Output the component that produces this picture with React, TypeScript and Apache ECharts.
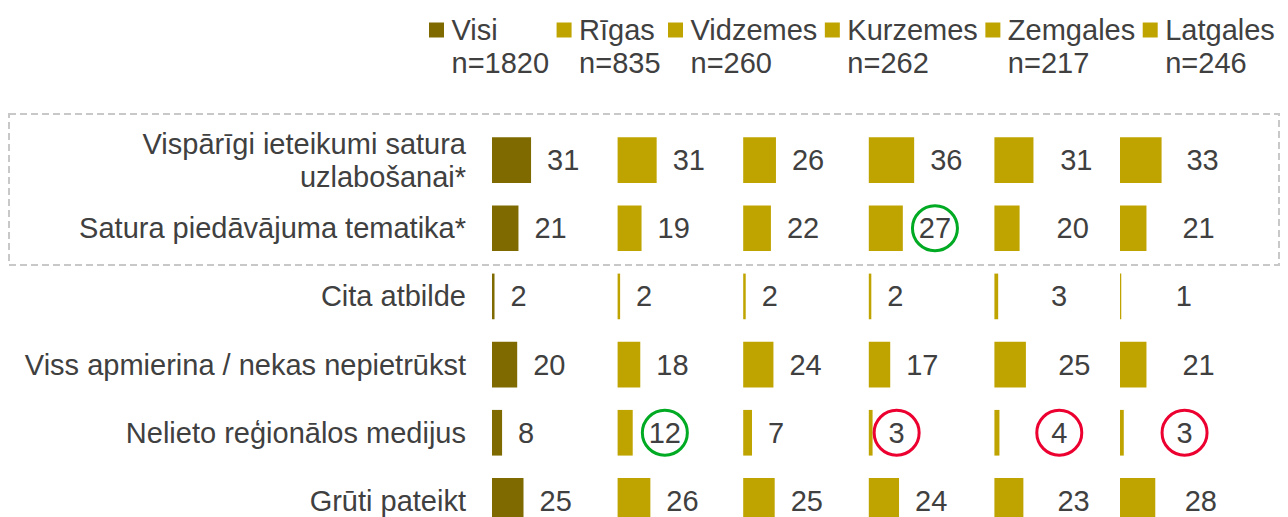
import { useEffect, useRef } from "react";
import * as echarts from "echarts";

const categories = [
  "Vispārīgi ieteikumi satura\nuzlabošanai*",
  "Satura piedāvājuma tematika*",
  "Cita atbilde",
  "Viss apmierina / nekas nepietrūkst",
  "Nelieto reģionālos medijus",
  "Grūti pateikt",
];
const groups = ["Visi", "Rīgas", "Vidzemes", "Kurzemes", "Zemgales", "Latgales"];
const sampleSizes = [1820, 835, 260, 262, 217, 246];
const visi = [31, 21, 2, 20, 8, 25];
const rigas = [31, 19, 2, 18, 12, 26];
const vidzemes = [26, 22, 2, 24, 7, 25];
const kurzemes = [36, 27, 2, 17, 3, 24];
const zemgales = [31, 20, 3, 25, 4, 23];
const latgales = [33, 21, 1, 21, 3, 28];
const values = [visi, rigas, vidzemes, kurzemes, zemgales, latgales];
// [group, category index]
const greenCircled: [string, number][] = [["Kurzemes", 1], ["Rīgas", 4]];
const redCircled: [string, number][] = [["Kurzemes", 4], ["Zemgales", 4], ["Latgales", 4]];

const FONT = 29;
const FAMILY = "'Liberation Sans', Arial, sans-serif";
const TEXT = "#404040";
const DARK = "#7f6a00";
const GOLD = "#bfa400";
const GREEN = "#00aa22";
const RED = "#ec0030";
const RING = 45;

function ringColor(g: string, c: number): string | null {
  if (greenCircled.some(([gg, cc]) => gg === g && cc === c)) return GREEN;
  if (redCircled.some(([gg, cc]) => gg === g && cc === c)) return RED;
  return null;
}

function dataItem(v: number, gi: number, ci: number) {
  const ring = ringColor(groups[gi], ci);
  const textW = String(v).length * 0.556 * FONT;
  const px = ring ? (RING - textW) / 2 : 0;
  const label: any = {};
  if (gi < 4) {
    label.position = "right";
    label.distance = 16 - px;
  } else {
    label.position = [55.5 + 0.33 * v - px, "50%"];
    label.align = "left";
    label.verticalAlign = "middle";
  }
  if (ring) {
    Object.assign(label, {
      borderColor: ring,
      borderWidth: 3,
      borderRadius: RING / 2,
      lineHeight: FONT,
      padding: [(RING - FONT) / 2, px],
    });
  }
  return { value: v, label };
}

export default function App() {
  const ref = useRef<HTMLDivElement>(null);
  useEffect(() => {
    if (!ref.current) return;
    const chart = echarts.init(ref.current, null, { renderer: "svg" });
    const gridTop = 126;
    const gridH = 409;
    const colStep = 125.6;
    const grid = groups.map((_, i) => ({
      left: 492 + i * colStep,
      top: gridTop,
      width: 126,
      height: gridH,
      containLabel: false,
      outerBoundsMode: "none",
    }));
    const xAxis = groups.map((_, i) => ({
      type: "value",
      gridIndex: i,
      min: 0,
      max: 100,
      show: false,
    }));
    const yAxis = groups.map((_, i) => ({
      type: "category",
      gridIndex: i,
      data: categories,
      inverse: true,
      axisLine: { show: false },
      axisTick: { show: false },
      splitLine: { show: false },
      axisLabel:
        i === 0
          ? { show: true, fontSize: FONT, fontFamily: FAMILY, color: TEXT, margin: 26, lineHeight: 33 }
          : { show: false },
    }));
    const series = groups.map((g, i) => ({
      type: "bar",
      name: g,
      xAxisIndex: i,
      yAxisIndex: i,
      barCategoryGap: "33%",
      itemStyle: { color: i === 0 ? DARK : GOLD },
      label: { show: true, fontSize: FONT, fontFamily: FAMILY, color: TEXT },
      data: values[i].map((v, ci) => dataItem(v, i, ci)),
    }));
    chart.setOption({
      animation: false,
      grid,
      xAxis,
      yAxis,
      series,
      legend: {
        data: groups,
        left: 429,
        top: -19.5,
        padding: 0,
        itemGap: 7.5,
        itemWidth: 20,
        itemHeight: 15,
        icon: "path://M0,0H10V10H0Z",
        selectedMode: false,
        formatter: (name: string) => ` \n${name}\nn=${sampleSizes[groups.indexOf(name)]}`,
        textStyle: {
          fontSize: FONT,
          fontFamily: FAMILY,
          color: TEXT,
          lineHeight: 33,
        },
      },
      graphic: [
        {
          type: "rect",
          silent: true,
          z: -1,
          shape: { x: 9, y: 114, width: 1270, height: 151 },
          style: { fill: "none", stroke: "#c8c8c8", lineWidth: 2, lineDash: [7, 4] },
        },
      ],
    });
    return () => chart.dispose();
  }, []);
  return (
    <div
      ref={ref}
      style={{ position: "fixed", left: 0, top: 0, width: 1288, height: 517, background: "#fff" }}
    />
  );
}
